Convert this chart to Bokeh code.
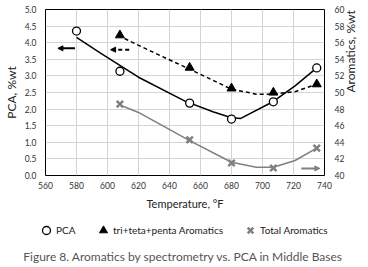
import math
from bokeh.plotting import figure
from bokeh.models import (Range1d, LinearAxis, FixedTicker, Legend, LegendItem,
                          Arrow, NormalHead, Label)
from bokeh.embed import file_html
from bokeh.resources import INLINE

# ---- data ----
temp = [580, 608, 653, 680, 707, 735]
pca = [4.35, 3.14, 2.18, 1.70, 2.22, 3.24]

tri_temp = [608, 653, 680, 707, 735]
tri_arom = [56.9, 53.0, 50.5, 50.0, 51.0]

tot_temp = [608, 653, 680, 707, 735]
tot_arom = [48.6, 44.3, 41.5, 40.9, 43.3]

# fitted curves as drawn
pca_fit_t = [580, 595, 608, 620, 650, 668, 680, 686, 707, 721, 735]
pca_fit = [4.16, 3.70, 3.32, 2.96, 2.24, 1.92, 1.74, 1.72, 2.23, 2.70, 3.24]

tri_fit_t = [611, 630, 652, 680, 696, 707, 721, 735]
tri_fit = [56.5, 54.8, 52.9, 50.4, 49.8, 49.8, 50.1, 51.0]

tot_fit_t = [608, 620, 653, 680, 696, 707, 721, 735]
tot_fit = [48.5, 47.6, 44.2, 41.6, 41.0, 41.0, 41.8, 43.3]

# axis arrows: (x_start, x_end, y)
arrow_pca = (579, 568, 3.83)
arrow_tri = (614, 602, 3.79)
arrow_tot = (725, 737, 40.85)

x_ticks = list(range(560, 741, 20))
left_ticks = [i * 0.5 for i in range(11)]
right_ticks = list(range(40, 61, 2))

series_names = ["PCA", "tri+teta+penta Aromatics", "Total Aromatics"]
caption = "Figure 8. Aromatics by spectrometry vs. PCA in Middle Bases"

FONT = "Lato"
GRAY = "#808080"

p = figure(width=368, height=212, x_range=Range1d(560, 740), y_range=Range1d(0, 5),
           output_backend="svg", toolbar_location=None,
           min_border_left=41, min_border_right=36, min_border_top=9, min_border_bottom=35)
p.extra_y_ranges = {"right": Range1d(40, 60)}
p.outline_line_color = "black"
p.outline_line_width = 1
p.background_fill_color = "white"
p.border_fill_color = "white"

p.xgrid.grid_line_color = "#d4d4d4"
p.ygrid.grid_line_color = "#d4d4d4"

p.xaxis.ticker = FixedTicker(ticks=x_ticks)
p.yaxis.ticker = FixedTicker(ticks=left_ticks)
p.yaxis.major_label_overrides = {t: f"{t:.1f}" for t in left_ticks}

raxis = LinearAxis(y_range_name="right", ticker=FixedTicker(ticks=right_ticks))
p.add_layout(raxis, "right")

xax = p.xaxis[0]
lax = p.yaxis[0]
xax.axis_label = "Temperature, °F"
lax.axis_label = "PCA, %wt"
raxis.axis_label = "Aromatics, %wt"
raxis.axis_label_orientation = math.pi / 2

for ax in [xax, lax, raxis]:
    ax.axis_line_color = None
    ax.major_tick_line_color = None
    ax.minor_tick_line_color = None
    ax.major_tick_out = 0
    ax.major_tick_in = 0
    ax.minor_tick_out = 0
    ax.minor_tick_in = 0
    ax.major_label_text_font = FONT
    ax.major_label_text_font_size = "8.5px"
    ax.major_label_text_color = "#333333"
    ax.axis_label_text_font = FONT
    ax.axis_label_text_font_style = "normal"
    ax.axis_label_text_font_size = "12px"
    ax.axis_label_text_color = "#222222"
xax.axis_label_text_font_size = "11px"
xax.major_label_standoff = 6
lax.major_label_standoff = 9
raxis.major_label_standoff = 10
xax.axis_label_standoff = 5
lax.axis_label_standoff = 3
raxis.axis_label_standoff = 3

# curves
p.line(pca_fit_t, pca_fit, line_color="black", line_width=1.5)
p.line(tri_fit_t, tri_fit, line_color="black", line_width=1.5, line_dash="4 3",
       y_range_name="right")
p.line(tot_fit_t, tot_fit, line_color=GRAY, line_width=1.6, y_range_name="right")

# markers
p.scatter(temp, pca, marker="circle", size=8, fill_color="white",
          line_color="black", line_width=1.3)
p.scatter(tri_temp, tri_arom, marker="triangle", size=9, fill_color="black",
          line_color="black", y_range_name="right")
p.scatter(tot_temp, tot_arom, marker="x", size=9, line_color=GRAY,
          line_width=2.5, y_range_name="right")

# arrows
p.add_layout(Arrow(end=NormalHead(size=5, fill_color="black", line_color="black"),
                   x_start=arrow_pca[0], x_end=arrow_pca[1], y_start=arrow_pca[2],
                   y_end=arrow_pca[2], line_color="black", line_width=2))
p.add_layout(Arrow(end=NormalHead(size=5, fill_color="black", line_color="black"),
                   x_start=arrow_tri[0], x_end=arrow_tri[1], y_start=arrow_tri[2],
                   y_end=arrow_tri[2], line_color="black", line_width=2, line_dash="4 3"))
p.add_layout(Arrow(end=NormalHead(size=5, fill_color=GRAY, line_color=GRAY),
                   x_start=arrow_tot[0], x_end=arrow_tot[1], y_start=arrow_tot[2],
                   y_end=arrow_tot[2], line_color=GRAY, line_width=2,
                   y_range_name="right"))

# ---- legend + caption strip (separate root, no frame alignment) ----
p2 = figure(width=368, height=55, x_range=Range1d(0, 1), y_range=Range1d(0, 1),
            output_backend="svg", toolbar_location=None, x_axis_type=None,
            y_axis_type=None, min_border=0)
p2.outline_line_color = None
p2.xgrid.visible = False
p2.ygrid.visible = False
off = [-10]  # legend-only glyphs, kept outside the visible range
g1 = p2.scatter(x=off, y=off, marker="circle", size=8, fill_color="white",
                line_color="black", line_width=1.3)
g2 = p2.scatter(x=off, y=off, marker="triangle", size=9, fill_color="black",
                line_color="black")
g3 = p2.scatter(x=off, y=off, marker="x", size=9, line_color=GRAY, line_width=2.5)

legend = Legend(items=[LegendItem(label=series_names[0], renderers=[g1]),
                       LegendItem(label=series_names[1], renderers=[g2]),
                       LegendItem(label=series_names[2], renderers=[g3])],
                orientation="horizontal", location=(36, 27), border_line_color=None,
                background_fill_alpha=0, label_text_font=FONT, label_text_font_size="10px",
                label_text_color="#222222", glyph_width=20, glyph_height=20,
                label_standoff=0, spacing=17, padding=2, margin=0)
p2.add_layout(legend, "center")

p2.add_layout(Label(x=183, y=11, x_units="screen", y_units="screen", text=caption,
                    text_align="center", text_baseline="middle", text_font=FONT,
                    text_font_size="12px", text_color="#555555"))

open("out.html", "w").write(file_html([p, p2], INLINE))
